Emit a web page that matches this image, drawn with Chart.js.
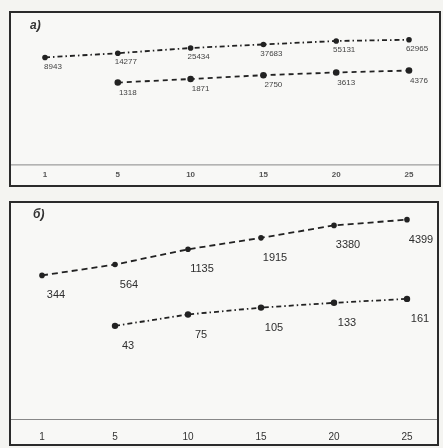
<!DOCTYPE html>
<html>
<head>
<meta charset="utf-8">
<script src="https://cdn.jsdelivr.net/npm/chart.js@4"></script>
<style>
  body { margin: 0; background: #f4f4f1; width: 443px; height: 448px; position: relative; overflow: hidden; font-family: "Liberation Sans", Arial, sans-serif; }
  .panel { position: absolute; border: 2px solid #2b2b2b; background: #f8f8f6; overflow: hidden; box-sizing: border-box; }
  .panel .wrap { position: absolute; left: 0; top: 0; }
  .tag { position: absolute; font-style: italic; font-weight: bold; color: #333; font-size: 12px; }
</style>
</head>
<body>
<div class="panel" id="panelA" style="left:9px; top:11px; width:432px; height:176px">
  <div class="wrap" style="width:428px; height:173px"><canvas id="chart-a"></canvas></div>
  <div class="tag" style="left:19px; top:5px">а)</div>
</div>
<div class="panel" id="panelB" style="left:9px; top:201px; width:430px; height:245px">
  <div class="wrap" style="width:426px; height:252px"><canvas id="chart-b"></canvas></div>
  <div class="tag" style="left:22px; top:4px">б)</div>
</div>
<script>
const years = ['1', '5', '10', '15', '20', '25']

// panel а
const aUpper = [8943, 14277, 25434, 37683, 55131, 62965]
const aLower = [null, 1318, 1871, 2750, 3613, 4376]
// panel б
const bUpper = [344, 564, 1135, 1915, 3380, 4399]
const bLower = [null, 43, 75, 105, 133, 161]

const ink = '#222'

// draws value labels next to the points and a baseline across the whole panel
const pointLabels = {
  id: 'pointLabels',
  afterDatasetsDraw(chart) {
    const ctx = chart.ctx
    const x = chart.scales.x
    ctx.save()
    ctx.strokeStyle = '#888'
    ctx.lineWidth = 1
    ctx.beginPath()
    ctx.moveTo(0, x.top + 0.5)
    ctx.lineTo(chart.width, x.top + 0.5)
    ctx.stroke()

    chart.data.datasets.forEach((ds, i) => {
      const meta = chart.getDatasetMeta(i)
      ctx.font = ds.labelFont
      ctx.fillStyle = ds.labelColor
      ctx.textAlign = 'center'
      ctx.textBaseline = 'middle'
      meta.data.forEach((pt, j) => {
        const v = ds.data[j]
        if (v === null || v === undefined) return
        ctx.fillText(String(v), pt.x + ds.labelDx, pt.y + ds.labelDy)
      })
    })
    ctx.restore()
  }
}

function logAxis(min, max) {
  return { type: 'logarithmic', display: false, min, max, bounds: 'data' }
}

function makeChart(id, datasets, yScales, pad, tickFont, tickPad, tickColor) {
  return new Chart(document.getElementById(id), {
    type: 'line',
    data: { labels: years, datasets },
    options: {
      animation: false,
      responsive: true,
      maintainAspectRatio: false,
      layout: { padding: pad },
      plugins: { legend: { display: false }, tooltip: { enabled: false } },
      scales: Object.assign({
        x: {
          type: 'category',
          offset: false,
          grid: { display: false, drawTicks: false },
          border: { display: false },
          ticks: { font: tickFont, color: tickColor, padding: tickPad, maxRotation: 0, autoSkip: false }
        }
      }, yScales)
    },
    plugins: [pointLabels]
  })
}

function series(data, yAxisID, dash, radius, labelDx, labelDy, labelFont, labelColor) {
  return {
    data, yAxisID,
    borderColor: ink,
    borderWidth: 1.8,
    borderDash: dash,
    pointRadius: radius,
    pointBackgroundColor: ink,
    pointBorderColor: ink,
    pointBorderWidth: 0,
    fill: false,
    tension: 0,
    spanGaps: false,
    labelDx, labelDy, labelFont, labelColor
  }
}

makeChart('chart-a', [
  series(aUpper, 'y1', [5, 3, 1.5, 3], 2.8, 8, 9, '8px "Liberation Sans", Arial', '#444'),
  series(aLower, 'y2', [5, 4], 3.3, 10, 10, '8px "Liberation Sans", Arial', '#444')
], {
  y1: logAxis(0.066, 780000),
  y2: logAxis(0.363, 933000)
}, { left: 34, right: 30, top: 0, bottom: 0 }, { size: 8, family: '"Liberation Sans", Arial', weight: 'bold' }, 6, '#555')

makeChart('chart-b', [
  series(bUpper, 'y1', [6, 4], 2.8, 14, 20, '11px "Liberation Sans", Arial', '#2e2e2e'),
  series(bLower, 'y2', [5, 3, 1.5, 3], 3.2, 13, 20, '11px "Liberation Sans", Arial', '#2e2e2e')
], {
  y1: logAxis(0.483, 7850),
  y2: logAxis(0.449, 14500)
}, { left: 31, right: 30, top: 0, bottom: 0 }, { size: 10, family: '"Liberation Sans", Arial' }, 12, '#333')
</script>
</body>
</html>
